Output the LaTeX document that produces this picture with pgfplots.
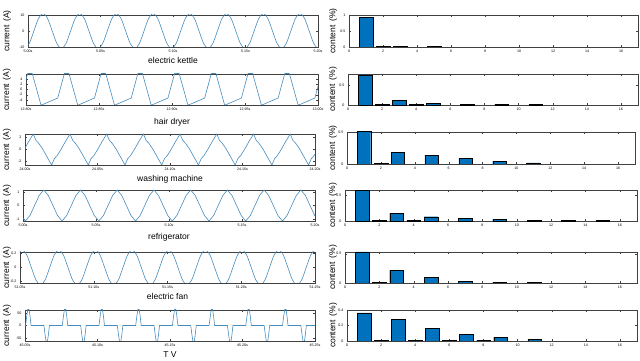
\documentclass[border=0pt]{standalone}
\usepackage{fontspec}
\setmainfont{Liberation Sans}
\usepackage{pgfplots}
\pgfplotsset{compat=1.18}
\definecolor{wavec}{RGB}{70,140,190}
\definecolor{mblue}{RGB}{0,114,189}
\definecolor{frame}{gray}{0.25}

\pgfplotsset{
  base/.style={scale only axis, height=31pt, anchor=north west,
    axis line style={draw=frame, line width=0.35pt},
    every tick/.style={draw=frame, line width=0.3pt},
    major tick length=2pt,
    tick label style={font=\fontsize{3.6}{4}\selectfont},
    xticklabel style={yshift=0.5pt},
    /pgf/number format/assume math mode=true,
    label style={font=\fontsize{8.5}{10}\selectfont},
    xlabel style={at={(axis description cs:0.5,0)}, anchor=base, yshift=-17pt},
    ylabel style={anchor=center},
  },
  wave/.style={base, ylabel={current\hspace{0.45em}(A)}},
  harm/.style={base, xmin=0, xmax=17, xtick={0,2,...,16}, ymin=0,
    ylabel={content\hspace{0.45em}(\%)}},
  wline/.style={color=wavec, line width=0.6pt, mark=none},
  hbar/.style={ybar, bar width=0.8, fill=mblue, draw=black, line width=0.3pt},
}

\begin{document}
\begin{tikzpicture}
\path[use as bounding box] (0,0) rectangle (640pt,361pt);

% ---- electric kettle ----
\begin{axis}[wave, at={(28pt,346pt)}, width=290pt, height=32pt,
  xmin=1.8, xmax=159.8, ymin=-10, ymax=10, ytick={-10,0,10},
  xtick={1.8,41.3,80.8,120.3,159.8}, xticklabels={5.00s,5.05s,5.10s,5.15s,5.20s},
  xlabel={electric kettle}, ylabel style={at={(axis description cs:-0.072,0.5)}}]
\addplot[wline, smooth] coordinates {
(0,-11)(2.5,-7.78)(5,0)(7.5,7.78)(10,11)(12.5,7.78)(15,0)(17.5,-7.78)
(20,-11)(22.5,-7.78)(25,0)(27.5,7.78)(30,11)(32.5,7.78)(35,0)(37.5,-7.78)
(40,-11)(42.5,-7.78)(45,0)(47.5,7.78)(50,11)(52.5,7.78)(55,0)(57.5,-7.78)
(60,-11)(62.5,-7.78)(65,0)(67.5,7.78)(70,11)(72.5,7.78)(75,0)(77.5,-7.78)
(80,-11)(82.5,-7.78)(85,0)(87.5,7.78)(90,11)(92.5,7.78)(95,0)(97.5,-7.78)
(100,-11)(102.5,-7.78)(105,0)(107.5,7.78)(110,11)(112.5,7.78)(115,0)(117.5,-7.78)
(120,-11)(122.5,-7.78)(125,0)(127.5,7.78)(130,11)(132.5,7.78)(135,0)(137.5,-7.78)
(140,-11)(142.5,-7.78)(145,0)(147.5,7.78)(150,11)(152.5,7.78)(155,0)(157.5,-7.78)
(160,-11)(162.5,-7.78)};
\end{axis}
\begin{axis}[harm, at={(349pt,346pt)}, width=289pt, height=32pt,
  ymax=1, ytick={0,0.5,1}, ylabel style={at={(axis description cs:-0.055,0.5)}}]
\addplot[hbar] coordinates {(1,0.92)(2,0.02)(3,0.03)(5,0.02)};
\end{axis}

% ---- hair dryer ----
\begin{axis}[wave, at={(26pt,287pt)}, width=292pt,
  xmin=-0.9, xmax=158.1, ymin=-6, ymax=6, ytick={-4,-2,0,2,4},
  xtick={-0.9,38.85,78.6,118.35,158.1}, xticklabels={12.80s,12.85s,12.90s,12.95s,13.00s},
  xlabel={hair dryer}, xlabel style={yshift=-3pt}, ylabel style={at={(axis description cs:-0.065,0.5)}}]
\addplot[wline] coordinates {
(-3.6,-3.3)
(0,6.2)(2.5,6.2)(7.3,-6.1)(16.4,-3.3)
(20,6.2)(22.5,6.2)(27.3,-6.1)(36.4,-3.3)
(40,6.2)(42.5,6.2)(47.3,-6.1)(56.4,-3.3)
(60,6.2)(62.5,6.2)(67.3,-6.1)(76.4,-3.3)
(80,6.2)(82.5,6.2)(87.3,-6.1)(96.4,-3.3)
(100,6.2)(102.5,6.2)(107.3,-6.1)(116.4,-3.3)
(120,6.2)(122.5,6.2)(127.3,-6.1)(136.4,-3.3)
(140,6.2)(142.5,6.2)(147.3,-6.1)(156.4,-3.3)
(160,6.2)(162.5,6.2)};
\end{axis}
\begin{axis}[harm, at={(348pt,287pt)}, width=290pt,
  ymax=0.78, ytick={0,0.5}, ylabel style={at={(axis description cs:-0.052,0.5)}}]
\addplot[hbar] coordinates {(1,0.76)(2,0.02)(3,0.12)(4,0.02)(5,0.05)(7,0.025)(9,0.015)(11,0.015)};
\end{axis}

% ---- washing machine ----
\begin{axis}[wave, at={(25pt,227pt)}, width=290pt,
  xmin=0, xmax=158, ymin=-2.7, ymax=2.6, ytick={-2,0,2},
  xtick={0,39.5,79,118.5,158}, xticklabels={24.00s,24.05s,24.10s,24.15s,24.20s},
  xlabel={washing machine}, ylabel style={at={(axis description cs:-0.062,0.5)}}]
\addplot[wline] coordinates {
(-5.5,-2.7)(-4,-1.6)(-2.5,-1.1)(-0.5,-0.1)(2,1.3)(4.5,2.6)
(6,1.5)(7.5,1.0)(9.5,0.1)(12,-1.3)(14.5,-2.7)(16,-1.6)(17.5,-1.1)(19.5,-0.1)(22,1.3)(24.5,2.6)
(26,1.5)(27.5,1.0)(29.5,0.1)(32,-1.3)(34.5,-2.7)(36,-1.6)(37.5,-1.1)(39.5,-0.1)(42,1.3)(44.5,2.6)
(46,1.5)(47.5,1.0)(49.5,0.1)(52,-1.3)(54.5,-2.7)(56,-1.6)(57.5,-1.1)(59.5,-0.1)(62,1.3)(64.5,2.6)
(66,1.5)(67.5,1.0)(69.5,0.1)(72,-1.3)(74.5,-2.7)(76,-1.6)(77.5,-1.1)(79.5,-0.1)(82,1.3)(84.5,2.6)
(86,1.5)(87.5,1.0)(89.5,0.1)(92,-1.3)(94.5,-2.7)(96,-1.6)(97.5,-1.1)(99.5,-0.1)(102,1.3)(104.5,2.6)
(106,1.5)(107.5,1.0)(109.5,0.1)(112,-1.3)(114.5,-2.7)(116,-1.6)(117.5,-1.1)(119.5,-0.1)(122,1.3)(124.5,2.6)
(126,1.5)(127.5,1.0)(129.5,0.1)(132,-1.3)(134.5,-2.7)(136,-1.6)(137.5,-1.1)(139.5,-0.1)(142,1.3)(144.5,2.6)
(146,1.5)(147.5,1.0)(149.5,0.1)(152,-1.3)(154.5,-2.7)(156,-1.6)(157.5,-1.1)(159.5,-0.1)(162,1.3)(164.5,2.6)};
\end{axis}
\begin{axis}[harm, at={(347pt,229pt)}, width=288pt, height=32pt,
  ymax=0.51, ytick={0,0.5}, ylabel style={at={(axis description cs:-0.049,0.5)}}]
\addplot[hbar] coordinates {(1,0.52)(2,0.01)(3,0.19)(5,0.14)(7,0.09)(9,0.04)(11,0.016)};
\end{axis}

% ---- refrigerator ----
\begin{axis}[wave, at={(23pt,171pt)}, width=292pt,
  xmin=-1.3, xmax=157.7, ymin=-1.15, ymax=1.15, ytick={-1,0,1},
  xtick={-1.3,38.45,78.2,117.95,157.7}, xticklabels={5.00s,5.05s,5.10s,5.15s,5.20s},
  xlabel={refrigerator}, xlabel style={yshift=-2pt}, ylabel style={at={(axis description cs:-0.055,0.5)}}]
\addplot[wline] coordinates {
(-2.5,-0.74)
(0,-1.15)(2.5,-0.74)(5,0)(7.5,0.74)(10,1.15)(12.5,0.74)(15,0)(17.5,-0.74)
(20,-1.15)(22.5,-0.74)(25,0)(27.5,0.74)(30,1.15)(32.5,0.74)(35,0)(37.5,-0.74)
(40,-1.15)(42.5,-0.74)(45,0)(47.5,0.74)(50,1.15)(52.5,0.74)(55,0)(57.5,-0.74)
(60,-1.15)(62.5,-0.74)(65,0)(67.5,0.74)(70,1.15)(72.5,0.74)(75,0)(77.5,-0.74)
(80,-1.15)(82.5,-0.74)(85,0)(87.5,0.74)(90,1.15)(92.5,0.74)(95,0)(97.5,-0.74)
(100,-1.15)(102.5,-0.74)(105,0)(107.5,0.74)(110,1.15)(112.5,0.74)(115,0)(117.5,-0.74)
(120,-1.15)(122.5,-0.74)(125,0)(127.5,0.74)(130,1.15)(132.5,0.74)(135,0)(137.5,-0.74)
(140,-1.15)(142.5,-0.74)(145,0)(147.5,0.74)(150,1.15)(152.5,0.74)(155,0)(157.5,-0.74)
(160,-1.15)};
\end{axis}
\begin{axis}[harm, at={(345pt,171pt)}, width=292pt,
  ymax=0.61, ytick={0,0.5}, ylabel style={at={(axis description cs:-0.041,0.5)}}]
\addplot[hbar] coordinates {(1,0.6)(2,0.01)(3,0.15)(4,0.01)(5,0.085)(7,0.053)(9,0.033)(11,0.01)(13,0.01)(15,0.01)};
\end{axis}

% ---- electric fan ----
\begin{axis}[wave, at={(20pt,109pt)}, width=295pt,
  xmin=-1.2, xmax=159.8, ymin=-0.22, ymax=0.22, ytick={-0.2,0,0.2},
  xtick={-1.2,39.05,79.3,119.55,159.8}, xticklabels={51.05s,51.10s,51.15s,51.20s,51.25s},
  xlabel={electric fan}, ylabel style={at={(axis description cs:-0.044,0.5)}}]
\addplot[wline, smooth] coordinates {
(-2.5,0.177)
(0,0.25)(2.5,0.177)(5,0)(7.5,-0.177)(10,-0.25)(12.5,-0.177)(15,0)(17.5,0.177)
(20,0.25)(22.5,0.177)(25,0)(27.5,-0.177)(30,-0.25)(32.5,-0.177)(35,0)(37.5,0.177)
(40,0.25)(42.5,0.177)(45,0)(47.5,-0.177)(50,-0.25)(52.5,-0.177)(55,0)(57.5,0.177)
(60,0.25)(62.5,0.177)(65,0)(67.5,-0.177)(70,-0.25)(72.5,-0.177)(75,0)(77.5,0.177)
(80,0.25)(82.5,0.177)(85,0)(87.5,-0.177)(90,-0.25)(92.5,-0.177)(95,0)(97.5,0.177)
(100,0.25)(102.5,0.177)(105,0)(107.5,-0.177)(110,-0.25)(112.5,-0.177)(115,0)(117.5,0.177)
(120,0.25)(122.5,0.177)(125,0)(127.5,-0.177)(130,-0.25)(132.5,-0.177)(135,0)(137.5,0.177)
(140,0.25)(142.5,0.177)(145,0)(147.5,-0.177)(150,-0.25)(152.5,-0.177)(155,0)(157.5,0.177)
(160,0.25)(162.5,0.177)};
\end{axis}
\begin{axis}[harm, at={(345pt,109pt)}, width=292pt,
  ymax=0.53, ytick={0,0.5}, ylabel style={at={(axis description cs:-0.041,0.5)}}]
\addplot[hbar] coordinates {(1,0.53)(2,0.01)(3,0.22)(5,0.10)(7,0.024)(9,0.012)(11,0.01)};
\end{axis}

% ---- TV ----
\begin{axis}[wave, at={(25pt,51pt)}, width=290pt,
  xmin=0, xmax=158, ymin=-62, ymax=62, ytick={-50,0,50},
  xtick={0,39.5,79,118.5,158}, xticklabels={45.05s,45.10s,45.15s,45.20s,45.25s},
  xlabel={T V}, ylabel style={at={(axis description cs:-0.062,0.5)}}]
\addplot[wline] coordinates {
(-1,0)
(0.3,0)(1.0,40)(1.5,64)(2.2,64)(2.7,40)(3.3,0)(10.3,0)(11.0,-40)(11.5,-64)(12.2,-64)(12.7,-40)(13.3,0)
(20.3,0)(21.0,40)(21.5,64)(22.2,64)(22.7,40)(23.3,0)(30.3,0)(31.0,-40)(31.5,-64)(32.2,-64)(32.7,-40)(33.3,0)
(40.3,0)(41.0,40)(41.5,64)(42.2,64)(42.7,40)(43.3,0)(50.3,0)(51.0,-40)(51.5,-64)(52.2,-64)(52.7,-40)(53.3,0)
(60.3,0)(61.0,40)(61.5,64)(62.2,64)(62.7,40)(63.3,0)(70.3,0)(71.0,-40)(71.5,-64)(72.2,-64)(72.7,-40)(73.3,0)
(80.3,0)(81.0,40)(81.5,64)(82.2,64)(82.7,40)(83.3,0)(90.3,0)(91.0,-40)(91.5,-64)(92.2,-64)(92.7,-40)(93.3,0)
(100.3,0)(101.0,40)(101.5,64)(102.2,64)(102.7,40)(103.3,0)(110.3,0)(111.0,-40)(111.5,-64)(112.2,-64)(112.7,-40)(113.3,0)
(120.3,0)(121.0,40)(121.5,64)(122.2,64)(122.7,40)(123.3,0)(130.3,0)(131.0,-40)(131.5,-64)(132.2,-64)(132.7,-40)(133.3,0)
(140.3,0)(141.0,40)(141.5,64)(142.2,64)(142.7,40)(143.3,0)(150.3,0)(151.0,-40)(151.5,-64)(152.2,-64)(152.7,-40)(153.3,0)
(160.3,0)};
\end{axis}
\begin{axis}[harm, at={(347pt,51pt)}, width=290pt,
  ymax=0.4, ytick={0,0.2,0.4}, ylabel style={at={(axis description cs:-0.048,0.5)}}]
\addplot[hbar] coordinates {(1,0.364)(2,0.01)(3,0.276)(4,0.01)(5,0.16)(6,0.01)(7,0.084)(8,0.012)(9,0.049)(11,0.022)};
\end{axis}
\end{tikzpicture}
\end{document}
